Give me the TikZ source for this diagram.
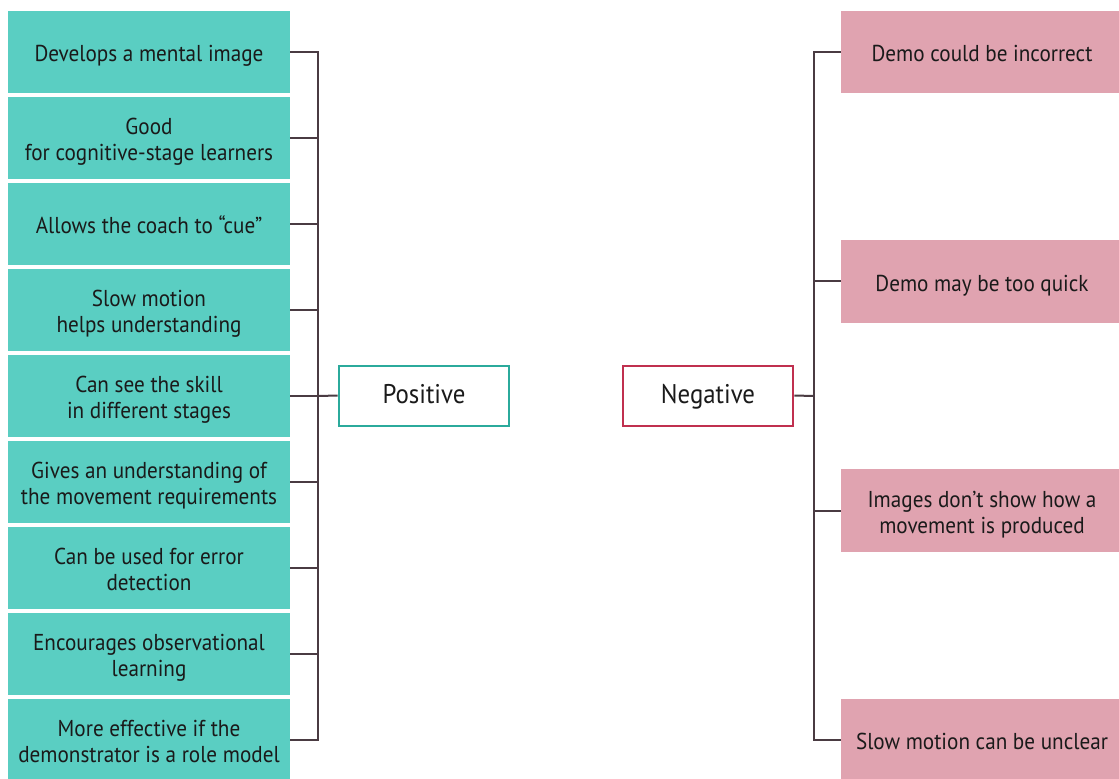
\documentclass[tikz,border=0pt]{standalone}
\usepackage{fontspec}
\setmainfont{PT Sans}[FakeStretch=0.92]
\definecolor{posfill}{HTML}{5ACEC2}
\definecolor{negfill}{HTML}{E0A3B0}
\definecolor{posedge}{HTML}{2BAA9C}
\definecolor{negedge}{HTML}{C0304F}
\definecolor{linkcol}{HTML}{4A3B42}
\definecolor{txt}{HTML}{1A1A1A}
% centred block of lines, set a little low so the capitals sit mid-box
\newcommand\celltext[1]{\raisebox{-4.6pt}[\height][\depth]{\begin{tabular}{@{}c@{}}#1\end{tabular}}}
\begin{document}
\begin{tikzpicture}[x=1pt,y=-1pt,
  item/.style={minimum width=282pt, minimum height=82.7pt, inner sep=0pt,
    text=txt, font=\fontsize{23}{26}\selectfont},
  posbox/.style={item, fill=posfill},
  negbox/.style={item, fill=negfill},
  head/.style={minimum width=170.6pt, minimum height=60pt, inner sep=0pt,
    text height=19.5pt, text depth=4.5pt,
    fill=white, line width=2pt, text=txt, font=\fontsize{27}{30}\selectfont},
  link/.style={draw=linkcol, line width=2pt}]
\useasboundingbox (0,0) rectangle (1119,779);
\clip (0,0) rectangle (1119,779);

% positive points
\node[posbox] (L1) at (149,52) {\celltext{Develops a mental image}};
\node[posbox] (L2) at (149,138) {\celltext{Good\\for cognitive-stage learners}};
\node[posbox] (L3) at (149,224) {\celltext{Allows the coach to “cue”}};
\node[posbox] (L4) at (149,310) {\celltext{Slow motion\\helps understanding}};
\node[posbox] (L5) at (149,396) {\celltext{Can see the skill\\in different stages}};
\node[posbox] (L6) at (149,482) {\celltext{Gives an understanding of\\the movement requirements}};
\node[posbox] (L7) at (149,568) {\celltext{Can be used for error\\detection}};
\node[posbox] (L8) at (149,654) {\celltext{Encourages observational\\learning}};
\node[posbox] (L9) at (149,740) {\celltext{More effective if the\\demonstrator is a role model}};

% negative points
\node[negbox] (R1) at (982,52) {\celltext{Demo could be incorrect}};
\node[negbox] (R2) at (982,281.3) {\celltext{Demo may be too quick}};
\node[negbox] (R3) at (982,510.7) {\celltext{Images don’t show how a\\movement is produced}};
\node[negbox] (R4) at (982,740) {\celltext{Slow motion can be unclear}};

% headings
\node[head, draw=posedge] (pos) at (424,395.5) {Positive};
\node[head, draw=negedge] (neg) at (708,395.5) {Negative};

% brackets
\coordinate (lspine) at (318,396);
\coordinate (rspine) at (814,396);
\draw[link] (L1.east) -| (lspine) |- (L9.east);
\foreach \n in {L2,L3,L4,L5,L6,L7,L8}
  \draw[link] (\n.east) -- (\n.east -| lspine);
\draw[link] (pos.west) -- (lspine);
\draw[link] (R1.west) -| (rspine) |- (R4.west);
\foreach \n in {R2,R3}
  \draw[link] (\n.west) -- (\n.west -| rspine);
\draw[link] (neg.east) -- (rspine);
\end{tikzpicture}
\end{document}
